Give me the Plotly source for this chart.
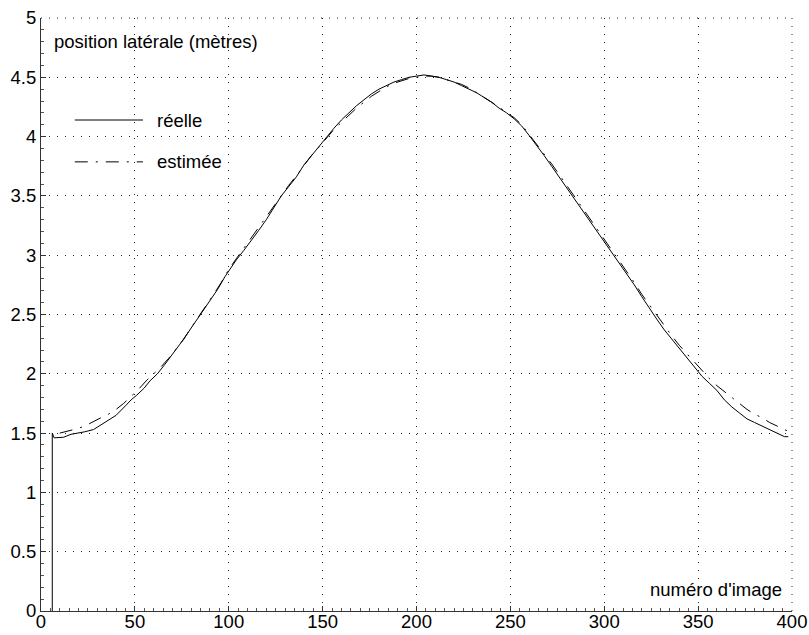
import plotly.graph_objects as go

# ---- data ----
real_x = [6, 6, 7, 12, 16, 20, 23, 28, 33, 37, 40, 45, 48, 51, 55, 58, 62, 66, 70, 74, 78, 82, 86, 90,
          94, 98, 100, 104, 108, 112, 116, 120, 124, 128, 132, 136, 140, 144, 148, 152, 156, 160, 164,
          168, 172, 176, 180, 184, 188, 192, 196, 200, 204, 208, 212, 216, 220, 224, 228, 232, 236, 240,
          244, 248, 252, 256, 260, 264, 268, 272, 276, 280, 284, 288, 292, 296, 300, 304, 308, 312, 316,
          320, 324, 328, 332, 336, 340, 344, 348, 352, 356, 360, 364, 368, 372, 376, 380, 384, 388, 392,
          396, 398]
real_y = [0.0, 1.50, 1.46, 1.465, 1.49, 1.50, 1.51, 1.53, 1.58, 1.62, 1.65, 1.73, 1.78, 1.82, 1.88, 1.94,
          2.00, 2.08, 2.16, 2.25, 2.34, 2.43, 2.52, 2.61, 2.71, 2.82, 2.87, 2.96, 3.04, 3.12, 3.21, 3.30,
          3.40, 3.50, 3.58, 3.66, 3.76, 3.84, 3.92, 3.99, 4.07, 4.14, 4.20, 4.26, 4.31, 4.36, 4.40, 4.43,
          4.46, 4.48, 4.50, 4.51, 4.52, 4.51, 4.50, 4.48, 4.46, 4.43, 4.40, 4.37, 4.33, 4.29, 4.24, 4.20,
          4.15, 4.09, 4.01, 3.93, 3.84, 3.75, 3.66, 3.57, 3.48, 3.38, 3.29, 3.20, 3.12, 3.02, 2.94, 2.84,
          2.75, 2.65, 2.55, 2.46, 2.37, 2.29, 2.21, 2.14, 2.06, 1.98, 1.92, 1.86, 1.78, 1.72, 1.67, 1.62,
          1.59, 1.56, 1.53, 1.50, 1.47, 1.47]

est_x = [10, 16, 20, 24, 28, 32, 36, 40, 44, 48, 52, 56, 60, 64, 68, 72, 76, 80, 84, 88, 92, 96, 100,
         104, 108, 112, 116, 120, 124, 128, 132, 136, 140, 144, 148, 152, 156, 160, 164, 168, 172, 176,
         180, 184, 188, 192, 196, 200, 204, 208, 212, 216, 220, 224, 228, 232, 236, 240, 244, 248, 252,
         256, 260, 264, 268, 272, 276, 280, 284, 288, 292, 296, 300, 304, 308, 312, 316, 320, 324, 328,
         332, 336, 340, 344, 348, 352, 356, 360, 364, 368, 372, 376, 380, 384, 388, 392, 396, 400]
est_y = [1.50, 1.525, 1.54, 1.565, 1.60, 1.63, 1.66, 1.70, 1.75, 1.81, 1.87, 1.94, 2.00, 2.06, 2.13,
         2.21, 2.29, 2.39, 2.48, 2.57, 2.67, 2.77, 2.88, 2.97, 3.06, 3.14, 3.23, 3.32, 3.41, 3.50, 3.59,
         3.67, 3.76, 3.84, 3.91, 3.99, 4.06, 4.12, 4.18, 4.24, 4.29, 4.34, 4.38, 4.42, 4.45, 4.47, 4.49,
         4.50, 4.51, 4.51, 4.50, 4.48, 4.46, 4.44, 4.41, 4.37, 4.33, 4.29, 4.25, 4.20, 4.16, 4.10, 4.02,
         3.94, 3.86, 3.77, 3.68, 3.59, 3.50, 3.40, 3.31, 3.22, 3.13, 3.04, 2.95, 2.86, 2.77, 2.67, 2.58,
         2.49, 2.40, 2.32, 2.24, 2.17, 2.10, 2.03, 1.96, 1.90, 1.85, 1.80, 1.75, 1.70, 1.66, 1.63, 1.59,
         1.56, 1.53, 1.50]

x_ticks = [0, 50, 100, 150, 200, 250, 300, 350, 400]
y_ticks = [0, 0.5, 1, 1.5, 2, 2.5, 3, 3.5, 4, 4.5, 5]

FONT = "Liberation Sans, Arial, sans-serif"
FS = 18.5
est_dash = "13px,8px,2px,8px"
grid_dash = "1px,7px"

fig = go.Figure()
fig.add_trace(go.Scatter(x=real_x, y=real_y, mode="lines",
                         line=dict(color="black", width=1), name="réelle"))
fig.add_trace(go.Scatter(x=est_x, y=est_y, mode="lines",
                         line=dict(color="black", width=1, dash=est_dash), name="estimée"))

axis_common = dict(showline=True, linecolor="#333", linewidth=1, ticks="inside", ticklen=5,
                   tickcolor="#333", showgrid=True, gridcolor="#222", gridwidth=1,
                   griddash=grid_dash, zeroline=False, mirror=False, automargin=False,
                   ticklabeloverflow="allow",
                   tickfont=dict(family=FONT, size=FS, color="black"))

fig.update_xaxes(range=[0, 400], tickvals=x_ticks, ticktext=[str(v) for v in x_ticks],
                 ticklabelstandoff=-6,
                 minor=dict(dtick=5, ticklen=3, ticks="inside", tickcolor="#555", showgrid=False),
                 **axis_common)
fig.update_yaxes(range=[0, 5], tickvals=y_ticks, ticktext=[f"{v:g}" for v in y_ticks],
                 minor=dict(dtick=0.1, ticklen=3, ticks="inside", tickcolor="#555", showgrid=False),
                 **axis_common)

# top and right dotted border (grid lines at the range limits)
fig.add_shape(type="line", xref="paper", yref="paper", x0=0, x1=1, y0=1, y1=1,
              line=dict(color="#222", width=1, dash=grid_dash))
fig.add_shape(type="line", xref="paper", yref="paper", x0=1, x1=1, y0=0, y1=1,
              line=dict(color="#222", width=1, dash=grid_dash))

# legend drawn inside the plot
fig.add_shape(type="line", xref="x", yref="y", x0=18, x1=54.3, y0=4.14, y1=4.14,
              line=dict(color="black", width=1))
fig.add_shape(type="line", xref="x", yref="y", x0=18, x1=54.3, y0=3.787, y1=3.787,
              line=dict(color="black", width=1, dash=est_dash))
fig.add_annotation(x=60.5, y=4.14, text="réelle", showarrow=False, xanchor="left", yanchor="middle",
                   font=dict(family=FONT, size=FS, color="black"))
fig.add_annotation(x=60.5, y=3.787, text="estimée", showarrow=False, xanchor="left", yanchor="middle",
                   font=dict(family=FONT, size=FS, color="black"))

fig.add_annotation(x=6.0, y=4.80, text="position latérale (mètres)", showarrow=False,
                   xanchor="left", yanchor="middle", font=dict(family=FONT, size=FS, color="black"))
fig.add_annotation(x=395.8, y=0.185, text="numéro d'image", showarrow=False,
                   xanchor="right", yanchor="middle", font=dict(family=FONT, size=FS, color="black"))

fig.update_layout(width=809, height=635, showlegend=False,
                  margin=dict(l=41, r=17, t=18, b=24, pad=0),
                  plot_bgcolor="white", paper_bgcolor="white",
                  font=dict(family=FONT, size=FS, color="black"))

# remove the default page margin so the figure fills the window exactly
fig.write_html("out.html", config={"displayModeBar": False},
               post_script="document.body.style.margin='0';document.body.style.overflow='hidden';")
